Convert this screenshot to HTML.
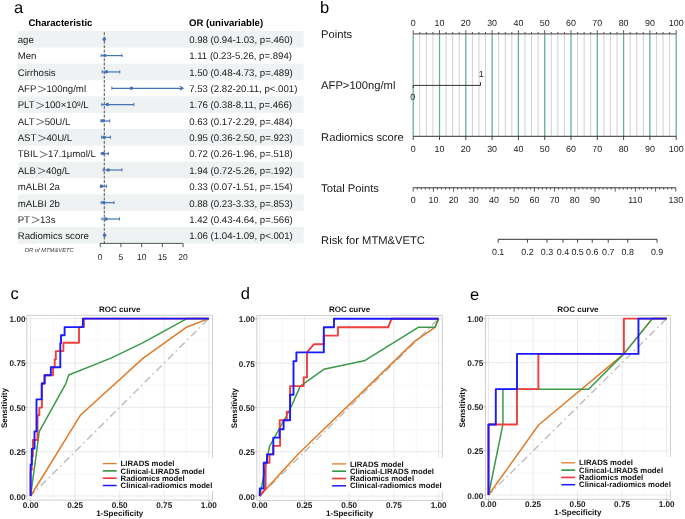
<!DOCTYPE html>
<html><head><meta charset="utf-8"><style>
html,body{margin:0;padding:0;background:#fff;width:685px;height:519px;overflow:hidden}
svg{display:block;will-change:transform}
text{font-family:"Liberation Sans", sans-serif;text-rendering:geometricPrecision}
</style></head><body>
<svg width="685" height="519" viewBox="0 0 685 519" font-family='"Liberation Sans", sans-serif'>
<rect width="685" height="519" fill="#fff"/>
<text x="14.1" y="13" font-size="16.5">a</text>
<text x="28.4" y="25.8" font-size="9.6" font-weight="bold">Characteristic</text>
<text x="189.0" y="26.1" font-size="9.6" font-weight="bold">OR (univariable)</text>
<rect x="17.9" y="31" width="285.8" height="16.5" fill="#eef2f2"/>
<rect x="17.9" y="63.68" width="285.8" height="16.5" fill="#eef2f2"/>
<rect x="17.9" y="96.36" width="285.8" height="16.5" fill="#eef2f2"/>
<rect x="17.9" y="129.04" width="285.8" height="16.5" fill="#eef2f2"/>
<rect x="17.9" y="161.72" width="285.8" height="16.5" fill="#eef2f2"/>
<rect x="17.9" y="194.4" width="285.8" height="16.5" fill="#eef2f2"/>
<rect x="17.9" y="227.08" width="285.8" height="16.5" fill="#eef2f2"/>
<text x="17.7" y="43.1" font-size="9.65" fill="#1a1a1a">age</text>
<text x="189.2" y="43.1" font-size="9.65" fill="#1a1a1a">0.98 (0.94-1.03, p=.460)</text>
<text x="17.7" y="59.44" font-size="9.65" fill="#1a1a1a">Men</text>
<text x="189.2" y="59.44" font-size="9.65" fill="#1a1a1a">1.11 (0.23-5.26, p=.894)</text>
<text x="17.7" y="75.78" font-size="9.65" fill="#1a1a1a">Cirrhosis</text>
<text x="189.2" y="75.78" font-size="9.65" fill="#1a1a1a">1.50 (0.48-4.73, p=.489)</text>
<text x="17.7" y="92.12" font-size="9.65" fill="#1a1a1a">AFP</text>
<path d="M38.23,86.02 L45.63,89.12 L38.23,92.22" fill="none" stroke="#383838" stroke-width="0.72"/>
<text x="46.43" y="92.12" font-size="9.65" fill="#1a1a1a">100ng/ml</text>
<text x="189.2" y="92.12" font-size="9.65" fill="#1a1a1a">7.53 (2.82-20.11, p&lt;.001)</text>
<text x="17.7" y="108.46" font-size="9.65" fill="#1a1a1a">PLT</text>
<path d="M36.44,102.36 L43.84,105.46 L36.44,108.56" fill="none" stroke="#383838" stroke-width="0.72"/>
<text x="44.64" y="108.46" font-size="9.65" fill="#1a1a1a">100×10<tspan font-size='6.6' dy='-2.6'>9</tspan><tspan dy='2.6'>/L</tspan></text>
<text x="189.2" y="108.46" font-size="9.65" fill="#1a1a1a">1.76 (0.38-8.11, p=.466)</text>
<text x="17.7" y="124.8" font-size="9.65" fill="#1a1a1a">ALT</text>
<path d="M36.44,118.7 L43.84,121.8 L36.44,124.9" fill="none" stroke="#383838" stroke-width="0.72"/>
<text x="44.64" y="124.8" font-size="9.65" fill="#1a1a1a">50U/L</text>
<text x="189.2" y="124.8" font-size="9.65" fill="#1a1a1a">0.63 (0.17-2.29, p=.484)</text>
<text x="17.7" y="141.14" font-size="9.65" fill="#1a1a1a">AST</text>
<path d="M38.23,135.04 L45.63,138.14 L38.23,141.24" fill="none" stroke="#383838" stroke-width="0.72"/>
<text x="46.43" y="141.14" font-size="9.65" fill="#1a1a1a">40U/L</text>
<text x="189.2" y="141.14" font-size="9.65" fill="#1a1a1a">0.95 (0.36-2.50, p=.923)</text>
<text x="17.7" y="157.48" font-size="9.65" fill="#1a1a1a">TBIL</text>
<path d="M39.83,151.38 L47.23,154.48 L39.83,157.58" fill="none" stroke="#383838" stroke-width="0.72"/>
<text x="48.03" y="157.48" font-size="9.65" fill="#1a1a1a">17.1μmol/L</text>
<text x="189.2" y="157.48" font-size="9.65" fill="#1a1a1a">0.72 (0.26-1.96, p=.518)</text>
<text x="17.7" y="173.82" font-size="9.65" fill="#1a1a1a">ALB</text>
<path d="M37.7,167.72 L45.1,170.82 L37.7,173.92" fill="none" stroke="#383838" stroke-width="0.72"/>
<text x="45.9" y="173.82" font-size="9.65" fill="#1a1a1a">40g/L</text>
<text x="189.2" y="173.82" font-size="9.65" fill="#1a1a1a">1.94 (0.72-5.26, p=.192)</text>
<text x="17.7" y="190.16" font-size="9.65" fill="#1a1a1a">mALBI 2a</text>
<text x="189.2" y="190.16" font-size="9.65" fill="#1a1a1a">0.33 (0.07-1.51, p=.154)</text>
<text x="17.7" y="206.5" font-size="9.65" fill="#1a1a1a">mALBI 2b</text>
<text x="189.2" y="206.5" font-size="9.65" fill="#1a1a1a">0.88 (0.23-3.33, p=.853)</text>
<text x="17.7" y="222.84" font-size="9.65" fill="#1a1a1a">PT</text>
<path d="M31.81,216.74 L39.21,219.84 L31.81,222.94" fill="none" stroke="#383838" stroke-width="0.72"/>
<text x="40.01" y="222.84" font-size="9.65" fill="#1a1a1a">13s</text>
<text x="189.2" y="222.84" font-size="9.65" fill="#1a1a1a">1.42 (0.43-4.64, p=.566)</text>
<text x="17.7" y="239.18" font-size="9.65" fill="#1a1a1a">Radiomics score</text>
<text x="189.2" y="239.18" font-size="9.65" fill="#1a1a1a">1.06 (1.04-1.09, p&lt;.001)</text>
<line x1="104.3" y1="31" x2="104.3" y2="243.4" stroke="#5a5a5a" stroke-width="1.05" stroke-dasharray="2.9,1.45" stroke-dashoffset="3.2"/>
<line x1="104.1" y1="39.27" x2="104.47" y2="39.27" stroke="#4672b6" stroke-width="1.2"/>
<line x1="104.1" y1="37.57" x2="104.1" y2="40.77" stroke="#4672b6" stroke-width="1"/>
<line x1="104.47" y1="37.57" x2="104.47" y2="40.77" stroke="#4672b6" stroke-width="1"/>
<circle cx="104.26" cy="39.17" r="1.75" fill="#4672b6"/>
<line x1="101.15" y1="55.61" x2="122" y2="55.61" stroke="#4672b6" stroke-width="1.2"/>
<line x1="101.15" y1="53.91" x2="101.15" y2="57.11" stroke="#4672b6" stroke-width="1"/>
<line x1="122" y1="53.91" x2="122" y2="57.11" stroke="#4672b6" stroke-width="1"/>
<circle cx="104.8" cy="55.51" r="1.75" fill="#4672b6"/>
<line x1="102.19" y1="71.95" x2="119.81" y2="71.95" stroke="#4672b6" stroke-width="1.2"/>
<line x1="102.19" y1="70.25" x2="102.19" y2="73.45" stroke="#4672b6" stroke-width="1"/>
<line x1="119.81" y1="70.25" x2="119.81" y2="73.45" stroke="#4672b6" stroke-width="1"/>
<circle cx="106.42" cy="71.85" r="1.75" fill="#4672b6"/>
<line x1="111.89" y1="88.29" x2="183.1" y2="88.29" stroke="#4672b6" stroke-width="1.2"/>
<line x1="111.89" y1="86.59" x2="111.89" y2="89.79" stroke="#4672b6" stroke-width="1"/>
<path d="M179.9,86.19 L183.1,88.19 L179.9,90.19" fill="none" stroke="#4672b6" stroke-width="1.1"/>
<circle cx="131.41" cy="88.19" r="1.75" fill="#4672b6"/>
<line x1="101.78" y1="104.63" x2="133.82" y2="104.63" stroke="#4672b6" stroke-width="1.2"/>
<line x1="101.78" y1="102.93" x2="101.78" y2="106.13" stroke="#4672b6" stroke-width="1"/>
<line x1="133.82" y1="102.93" x2="133.82" y2="106.13" stroke="#4672b6" stroke-width="1"/>
<circle cx="107.5" cy="104.53" r="1.75" fill="#4672b6"/>
<line x1="100.9" y1="120.97" x2="109.69" y2="120.97" stroke="#4672b6" stroke-width="1.2"/>
<line x1="100.9" y1="119.27" x2="100.9" y2="122.47" stroke="#4672b6" stroke-width="1"/>
<line x1="109.69" y1="119.27" x2="109.69" y2="122.47" stroke="#4672b6" stroke-width="1"/>
<circle cx="102.81" cy="120.87" r="1.75" fill="#4672b6"/>
<line x1="101.69" y1="137.31" x2="110.56" y2="137.31" stroke="#4672b6" stroke-width="1.2"/>
<line x1="101.69" y1="135.61" x2="101.69" y2="138.81" stroke="#4672b6" stroke-width="1"/>
<line x1="110.56" y1="135.61" x2="110.56" y2="138.81" stroke="#4672b6" stroke-width="1"/>
<circle cx="104.14" cy="137.21" r="1.75" fill="#4672b6"/>
<line x1="101.28" y1="153.65" x2="108.32" y2="153.65" stroke="#4672b6" stroke-width="1.2"/>
<line x1="101.28" y1="151.95" x2="101.28" y2="155.15" stroke="#4672b6" stroke-width="1"/>
<line x1="108.32" y1="151.95" x2="108.32" y2="155.15" stroke="#4672b6" stroke-width="1"/>
<circle cx="103.18" cy="153.55" r="1.75" fill="#4672b6"/>
<line x1="103.18" y1="169.99" x2="122" y2="169.99" stroke="#4672b6" stroke-width="1.2"/>
<line x1="103.18" y1="168.29" x2="103.18" y2="171.49" stroke="#4672b6" stroke-width="1"/>
<line x1="122" y1="168.29" x2="122" y2="171.49" stroke="#4672b6" stroke-width="1"/>
<circle cx="108.24" cy="169.89" r="1.75" fill="#4672b6"/>
<line x1="100.49" y1="186.33" x2="106.46" y2="186.33" stroke="#4672b6" stroke-width="1.2"/>
<line x1="100.49" y1="184.63" x2="100.49" y2="187.83" stroke="#4672b6" stroke-width="1"/>
<line x1="106.46" y1="184.63" x2="106.46" y2="187.83" stroke="#4672b6" stroke-width="1"/>
<circle cx="101.57" cy="186.23" r="1.75" fill="#4672b6"/>
<line x1="101.15" y1="202.67" x2="114" y2="202.67" stroke="#4672b6" stroke-width="1.2"/>
<line x1="101.15" y1="200.97" x2="101.15" y2="204.17" stroke="#4672b6" stroke-width="1"/>
<line x1="114" y1="200.97" x2="114" y2="204.17" stroke="#4672b6" stroke-width="1"/>
<circle cx="103.85" cy="202.57" r="1.75" fill="#4672b6"/>
<line x1="101.98" y1="219.01" x2="119.43" y2="219.01" stroke="#4672b6" stroke-width="1.2"/>
<line x1="101.98" y1="217.31" x2="101.98" y2="220.51" stroke="#4672b6" stroke-width="1"/>
<line x1="119.43" y1="217.31" x2="119.43" y2="220.51" stroke="#4672b6" stroke-width="1"/>
<circle cx="106.09" cy="218.91" r="1.75" fill="#4672b6"/>
<line x1="104.51" y1="235.35" x2="104.72" y2="235.35" stroke="#4672b6" stroke-width="1.2"/>
<line x1="104.51" y1="233.65" x2="104.51" y2="236.85" stroke="#4672b6" stroke-width="1"/>
<line x1="104.72" y1="233.65" x2="104.72" y2="236.85" stroke="#4672b6" stroke-width="1"/>
<circle cx="104.59" cy="235.25" r="1.75" fill="#4672b6"/>
<line x1="100.2" y1="243.4" x2="183.1" y2="243.4" stroke="#444" stroke-width="0.9"/>
<line x1="100.2" y1="243.4" x2="100.2" y2="247.2" stroke="#444" stroke-width="0.9"/>
<text x="100.2" y="259.5" font-size="8.5" text-anchor="middle" fill="#222">0</text>
<line x1="120.92" y1="243.4" x2="120.92" y2="247.2" stroke="#444" stroke-width="0.9"/>
<text x="120.92" y="259.5" font-size="8.5" text-anchor="middle" fill="#222">5</text>
<line x1="141.65" y1="243.4" x2="141.65" y2="247.2" stroke="#444" stroke-width="0.9"/>
<text x="141.65" y="259.5" font-size="8.5" text-anchor="middle" fill="#222">10</text>
<line x1="162.38" y1="243.4" x2="162.38" y2="247.2" stroke="#444" stroke-width="0.9"/>
<text x="162.38" y="259.5" font-size="8.5" text-anchor="middle" fill="#222">15</text>
<line x1="183.1" y1="243.4" x2="183.1" y2="247.2" stroke="#444" stroke-width="0.9"/>
<text x="183.1" y="259.5" font-size="8.5" text-anchor="middle" fill="#222">20</text>
<text x="24.5" y="251.7" font-size="5.8" font-style="italic" fill="#333">OR of MTM&amp;VETC</text>
<text x="320.1" y="13" font-size="16.5">b</text>
<line x1="419.77" y1="34" x2="419.77" y2="136.3" stroke="#d0d0d0" stroke-width="1"/>
<line x1="426.35" y1="34" x2="426.35" y2="136.3" stroke="#d0d0d0" stroke-width="1"/>
<line x1="432.93" y1="34" x2="432.93" y2="136.3" stroke="#d0d0d0" stroke-width="1"/>
<line x1="446.07" y1="34" x2="446.07" y2="136.3" stroke="#d0d0d0" stroke-width="1"/>
<line x1="452.65" y1="34" x2="452.65" y2="136.3" stroke="#d0d0d0" stroke-width="1"/>
<line x1="459.22" y1="34" x2="459.22" y2="136.3" stroke="#d0d0d0" stroke-width="1"/>
<line x1="472.38" y1="34" x2="472.38" y2="136.3" stroke="#d0d0d0" stroke-width="1"/>
<line x1="478.95" y1="34" x2="478.95" y2="136.3" stroke="#d0d0d0" stroke-width="1"/>
<line x1="485.52" y1="34" x2="485.52" y2="136.3" stroke="#d0d0d0" stroke-width="1"/>
<line x1="498.67" y1="34" x2="498.67" y2="136.3" stroke="#d0d0d0" stroke-width="1"/>
<line x1="505.25" y1="34" x2="505.25" y2="136.3" stroke="#d0d0d0" stroke-width="1"/>
<line x1="511.82" y1="34" x2="511.82" y2="136.3" stroke="#d0d0d0" stroke-width="1"/>
<line x1="524.98" y1="34" x2="524.98" y2="136.3" stroke="#d0d0d0" stroke-width="1"/>
<line x1="531.55" y1="34" x2="531.55" y2="136.3" stroke="#d0d0d0" stroke-width="1"/>
<line x1="538.12" y1="34" x2="538.12" y2="136.3" stroke="#d0d0d0" stroke-width="1"/>
<line x1="551.27" y1="34" x2="551.27" y2="136.3" stroke="#d0d0d0" stroke-width="1"/>
<line x1="557.85" y1="34" x2="557.85" y2="136.3" stroke="#d0d0d0" stroke-width="1"/>
<line x1="564.42" y1="34" x2="564.42" y2="136.3" stroke="#d0d0d0" stroke-width="1"/>
<line x1="577.58" y1="34" x2="577.58" y2="136.3" stroke="#d0d0d0" stroke-width="1"/>
<line x1="584.15" y1="34" x2="584.15" y2="136.3" stroke="#d0d0d0" stroke-width="1"/>
<line x1="590.73" y1="34" x2="590.73" y2="136.3" stroke="#d0d0d0" stroke-width="1"/>
<line x1="603.88" y1="34" x2="603.88" y2="136.3" stroke="#d0d0d0" stroke-width="1"/>
<line x1="610.45" y1="34" x2="610.45" y2="136.3" stroke="#d0d0d0" stroke-width="1"/>
<line x1="617.02" y1="34" x2="617.02" y2="136.3" stroke="#d0d0d0" stroke-width="1"/>
<line x1="630.17" y1="34" x2="630.17" y2="136.3" stroke="#d0d0d0" stroke-width="1"/>
<line x1="636.75" y1="34" x2="636.75" y2="136.3" stroke="#d0d0d0" stroke-width="1"/>
<line x1="643.33" y1="34" x2="643.33" y2="136.3" stroke="#d0d0d0" stroke-width="1"/>
<line x1="656.47" y1="34" x2="656.47" y2="136.3" stroke="#d0d0d0" stroke-width="1"/>
<line x1="663.05" y1="34" x2="663.05" y2="136.3" stroke="#d0d0d0" stroke-width="1"/>
<line x1="669.62" y1="34" x2="669.62" y2="136.3" stroke="#d0d0d0" stroke-width="1"/>
<line x1="413.2" y1="34" x2="413.2" y2="136.3" stroke="#69ada2" stroke-width="1.3"/>
<line x1="439.5" y1="34" x2="439.5" y2="136.3" stroke="#69ada2" stroke-width="1.3"/>
<line x1="465.8" y1="34" x2="465.8" y2="136.3" stroke="#69ada2" stroke-width="1.3"/>
<line x1="492.1" y1="34" x2="492.1" y2="136.3" stroke="#69ada2" stroke-width="1.3"/>
<line x1="518.4" y1="34" x2="518.4" y2="136.3" stroke="#69ada2" stroke-width="1.3"/>
<line x1="544.7" y1="34" x2="544.7" y2="136.3" stroke="#69ada2" stroke-width="1.3"/>
<line x1="571" y1="34" x2="571" y2="136.3" stroke="#69ada2" stroke-width="1.3"/>
<line x1="597.3" y1="34" x2="597.3" y2="136.3" stroke="#69ada2" stroke-width="1.3"/>
<line x1="623.6" y1="34" x2="623.6" y2="136.3" stroke="#69ada2" stroke-width="1.3"/>
<line x1="649.9" y1="34" x2="649.9" y2="136.3" stroke="#69ada2" stroke-width="1.3"/>
<line x1="676.2" y1="34" x2="676.2" y2="136.3" stroke="#69ada2" stroke-width="1.3"/>
<line x1="413.2" y1="33.9" x2="676.2" y2="33.9" stroke="#6a6a6a" stroke-width="1.3"/>
<line x1="413.2" y1="30.2" x2="413.2" y2="33.9" stroke="#444" stroke-width="0.9"/>
<line x1="419.77" y1="32.0" x2="419.77" y2="33.9" stroke="#444" stroke-width="0.9"/>
<line x1="426.35" y1="32.0" x2="426.35" y2="33.9" stroke="#444" stroke-width="0.9"/>
<line x1="432.93" y1="32.0" x2="432.93" y2="33.9" stroke="#444" stroke-width="0.9"/>
<line x1="439.5" y1="30.2" x2="439.5" y2="33.9" stroke="#444" stroke-width="0.9"/>
<line x1="446.07" y1="32.0" x2="446.07" y2="33.9" stroke="#444" stroke-width="0.9"/>
<line x1="452.65" y1="32.0" x2="452.65" y2="33.9" stroke="#444" stroke-width="0.9"/>
<line x1="459.22" y1="32.0" x2="459.22" y2="33.9" stroke="#444" stroke-width="0.9"/>
<line x1="465.8" y1="30.2" x2="465.8" y2="33.9" stroke="#444" stroke-width="0.9"/>
<line x1="472.38" y1="32.0" x2="472.38" y2="33.9" stroke="#444" stroke-width="0.9"/>
<line x1="478.95" y1="32.0" x2="478.95" y2="33.9" stroke="#444" stroke-width="0.9"/>
<line x1="485.52" y1="32.0" x2="485.52" y2="33.9" stroke="#444" stroke-width="0.9"/>
<line x1="492.1" y1="30.2" x2="492.1" y2="33.9" stroke="#444" stroke-width="0.9"/>
<line x1="498.67" y1="32.0" x2="498.67" y2="33.9" stroke="#444" stroke-width="0.9"/>
<line x1="505.25" y1="32.0" x2="505.25" y2="33.9" stroke="#444" stroke-width="0.9"/>
<line x1="511.82" y1="32.0" x2="511.82" y2="33.9" stroke="#444" stroke-width="0.9"/>
<line x1="518.4" y1="30.2" x2="518.4" y2="33.9" stroke="#444" stroke-width="0.9"/>
<line x1="524.98" y1="32.0" x2="524.98" y2="33.9" stroke="#444" stroke-width="0.9"/>
<line x1="531.55" y1="32.0" x2="531.55" y2="33.9" stroke="#444" stroke-width="0.9"/>
<line x1="538.12" y1="32.0" x2="538.12" y2="33.9" stroke="#444" stroke-width="0.9"/>
<line x1="544.7" y1="30.2" x2="544.7" y2="33.9" stroke="#444" stroke-width="0.9"/>
<line x1="551.27" y1="32.0" x2="551.27" y2="33.9" stroke="#444" stroke-width="0.9"/>
<line x1="557.85" y1="32.0" x2="557.85" y2="33.9" stroke="#444" stroke-width="0.9"/>
<line x1="564.42" y1="32.0" x2="564.42" y2="33.9" stroke="#444" stroke-width="0.9"/>
<line x1="571" y1="30.2" x2="571" y2="33.9" stroke="#444" stroke-width="0.9"/>
<line x1="577.58" y1="32.0" x2="577.58" y2="33.9" stroke="#444" stroke-width="0.9"/>
<line x1="584.15" y1="32.0" x2="584.15" y2="33.9" stroke="#444" stroke-width="0.9"/>
<line x1="590.73" y1="32.0" x2="590.73" y2="33.9" stroke="#444" stroke-width="0.9"/>
<line x1="597.3" y1="30.2" x2="597.3" y2="33.9" stroke="#444" stroke-width="0.9"/>
<line x1="603.88" y1="32.0" x2="603.88" y2="33.9" stroke="#444" stroke-width="0.9"/>
<line x1="610.45" y1="32.0" x2="610.45" y2="33.9" stroke="#444" stroke-width="0.9"/>
<line x1="617.02" y1="32.0" x2="617.02" y2="33.9" stroke="#444" stroke-width="0.9"/>
<line x1="623.6" y1="30.2" x2="623.6" y2="33.9" stroke="#444" stroke-width="0.9"/>
<line x1="630.17" y1="32.0" x2="630.17" y2="33.9" stroke="#444" stroke-width="0.9"/>
<line x1="636.75" y1="32.0" x2="636.75" y2="33.9" stroke="#444" stroke-width="0.9"/>
<line x1="643.33" y1="32.0" x2="643.33" y2="33.9" stroke="#444" stroke-width="0.9"/>
<line x1="649.9" y1="30.2" x2="649.9" y2="33.9" stroke="#444" stroke-width="0.9"/>
<line x1="656.47" y1="32.0" x2="656.47" y2="33.9" stroke="#444" stroke-width="0.9"/>
<line x1="663.05" y1="32.0" x2="663.05" y2="33.9" stroke="#444" stroke-width="0.9"/>
<line x1="669.62" y1="32.0" x2="669.62" y2="33.9" stroke="#444" stroke-width="0.9"/>
<line x1="676.2" y1="30.2" x2="676.2" y2="33.9" stroke="#444" stroke-width="0.9"/>
<text x="413.2" y="25.8" font-size="8.9" text-anchor="middle" fill="#222">0</text>
<text x="439.5" y="25.8" font-size="8.9" text-anchor="middle" fill="#222">10</text>
<text x="465.8" y="25.8" font-size="8.9" text-anchor="middle" fill="#222">20</text>
<text x="492.1" y="25.8" font-size="8.9" text-anchor="middle" fill="#222">30</text>
<text x="518.4" y="25.8" font-size="8.9" text-anchor="middle" fill="#222">40</text>
<text x="544.7" y="25.8" font-size="8.9" text-anchor="middle" fill="#222">50</text>
<text x="571" y="25.8" font-size="8.9" text-anchor="middle" fill="#222">60</text>
<text x="597.3" y="25.8" font-size="8.9" text-anchor="middle" fill="#222">70</text>
<text x="623.6" y="25.8" font-size="8.9" text-anchor="middle" fill="#222">80</text>
<text x="649.9" y="25.8" font-size="8.9" text-anchor="middle" fill="#222">90</text>
<text x="676.2" y="25.8" font-size="8.9" text-anchor="middle" fill="#222">100</text>
<text x="321.1" y="38.1" font-size="11.2" fill="#1a1a1a">Points</text>
<text x="321.1" y="89.1" font-size="11.2" fill="#1a1a1a">AFP&gt;100ng/ml</text>
<text x="321.1" y="140.6" font-size="11.2" fill="#1a1a1a">Radiomics score</text>
<text x="321.1" y="192.3" font-size="11.2" fill="#1a1a1a">Total Points</text>
<text x="321.1" y="243.5" font-size="11.2" fill="#1a1a1a">Risk for MTM&amp;VETC</text>
<path d="M413.2,88.2 V85.4 H480.5 V82.2" fill="none" stroke="#333" stroke-width="1"/>
<text x="481.2" y="77.2" font-size="8.9" text-anchor="middle" fill="#222">1</text>
<text x="412.8" y="100.3" font-size="8.9" text-anchor="middle" fill="#222">0</text>
<line x1="413.2" y1="136.3" x2="676.2" y2="136.3" stroke="#333" stroke-width="1"/>
<line x1="413.2" y1="136.3" x2="413.2" y2="140" stroke="#333" stroke-width="0.9"/>
<text x="413.2" y="151.7" font-size="8.9" text-anchor="middle" fill="#222">0</text>
<line x1="439.5" y1="136.3" x2="439.5" y2="140" stroke="#333" stroke-width="0.9"/>
<text x="439.5" y="151.7" font-size="8.9" text-anchor="middle" fill="#222">10</text>
<line x1="465.8" y1="136.3" x2="465.8" y2="140" stroke="#333" stroke-width="0.9"/>
<text x="465.8" y="151.7" font-size="8.9" text-anchor="middle" fill="#222">20</text>
<line x1="492.1" y1="136.3" x2="492.1" y2="140" stroke="#333" stroke-width="0.9"/>
<text x="492.1" y="151.7" font-size="8.9" text-anchor="middle" fill="#222">30</text>
<line x1="518.4" y1="136.3" x2="518.4" y2="140" stroke="#333" stroke-width="0.9"/>
<text x="518.4" y="151.7" font-size="8.9" text-anchor="middle" fill="#222">40</text>
<line x1="544.7" y1="136.3" x2="544.7" y2="140" stroke="#333" stroke-width="0.9"/>
<text x="544.7" y="151.7" font-size="8.9" text-anchor="middle" fill="#222">50</text>
<line x1="571" y1="136.3" x2="571" y2="140" stroke="#333" stroke-width="0.9"/>
<text x="571" y="151.7" font-size="8.9" text-anchor="middle" fill="#222">60</text>
<line x1="597.3" y1="136.3" x2="597.3" y2="140" stroke="#333" stroke-width="0.9"/>
<text x="597.3" y="151.7" font-size="8.9" text-anchor="middle" fill="#222">70</text>
<line x1="623.6" y1="136.3" x2="623.6" y2="140" stroke="#333" stroke-width="0.9"/>
<text x="623.6" y="151.7" font-size="8.9" text-anchor="middle" fill="#222">80</text>
<line x1="649.9" y1="136.3" x2="649.9" y2="140" stroke="#333" stroke-width="0.9"/>
<text x="649.9" y="151.7" font-size="8.9" text-anchor="middle" fill="#222">90</text>
<line x1="676.2" y1="136.3" x2="676.2" y2="140" stroke="#333" stroke-width="0.9"/>
<text x="676.2" y="151.7" font-size="8.9" text-anchor="middle" fill="#222">100</text>
<line x1="413.2" y1="187.8" x2="675.8" y2="187.8" stroke="#333" stroke-width="1"/>
<line x1="413.2" y1="187.8" x2="413.2" y2="191.6" stroke="#333" stroke-width="0.8"/>
<line x1="417.24" y1="187.8" x2="417.24" y2="189.7" stroke="#333" stroke-width="0.8"/>
<line x1="421.28" y1="187.8" x2="421.28" y2="189.7" stroke="#333" stroke-width="0.8"/>
<line x1="425.32" y1="187.8" x2="425.32" y2="189.7" stroke="#333" stroke-width="0.8"/>
<line x1="429.36" y1="187.8" x2="429.36" y2="189.7" stroke="#333" stroke-width="0.8"/>
<line x1="433.4" y1="187.8" x2="433.4" y2="191.6" stroke="#333" stroke-width="0.8"/>
<line x1="437.44" y1="187.8" x2="437.44" y2="189.7" stroke="#333" stroke-width="0.8"/>
<line x1="441.48" y1="187.8" x2="441.48" y2="189.7" stroke="#333" stroke-width="0.8"/>
<line x1="445.52" y1="187.8" x2="445.52" y2="189.7" stroke="#333" stroke-width="0.8"/>
<line x1="449.56" y1="187.8" x2="449.56" y2="189.7" stroke="#333" stroke-width="0.8"/>
<line x1="453.6" y1="187.8" x2="453.6" y2="191.6" stroke="#333" stroke-width="0.8"/>
<line x1="457.64" y1="187.8" x2="457.64" y2="189.7" stroke="#333" stroke-width="0.8"/>
<line x1="461.68" y1="187.8" x2="461.68" y2="189.7" stroke="#333" stroke-width="0.8"/>
<line x1="465.72" y1="187.8" x2="465.72" y2="189.7" stroke="#333" stroke-width="0.8"/>
<line x1="469.76" y1="187.8" x2="469.76" y2="189.7" stroke="#333" stroke-width="0.8"/>
<line x1="473.8" y1="187.8" x2="473.8" y2="191.6" stroke="#333" stroke-width="0.8"/>
<line x1="477.84" y1="187.8" x2="477.84" y2="189.7" stroke="#333" stroke-width="0.8"/>
<line x1="481.88" y1="187.8" x2="481.88" y2="189.7" stroke="#333" stroke-width="0.8"/>
<line x1="485.92" y1="187.8" x2="485.92" y2="189.7" stroke="#333" stroke-width="0.8"/>
<line x1="489.96" y1="187.8" x2="489.96" y2="189.7" stroke="#333" stroke-width="0.8"/>
<line x1="494" y1="187.8" x2="494" y2="191.6" stroke="#333" stroke-width="0.8"/>
<line x1="498.04" y1="187.8" x2="498.04" y2="189.7" stroke="#333" stroke-width="0.8"/>
<line x1="502.08" y1="187.8" x2="502.08" y2="189.7" stroke="#333" stroke-width="0.8"/>
<line x1="506.12" y1="187.8" x2="506.12" y2="189.7" stroke="#333" stroke-width="0.8"/>
<line x1="510.16" y1="187.8" x2="510.16" y2="189.7" stroke="#333" stroke-width="0.8"/>
<line x1="514.2" y1="187.8" x2="514.2" y2="191.6" stroke="#333" stroke-width="0.8"/>
<line x1="518.24" y1="187.8" x2="518.24" y2="189.7" stroke="#333" stroke-width="0.8"/>
<line x1="522.28" y1="187.8" x2="522.28" y2="189.7" stroke="#333" stroke-width="0.8"/>
<line x1="526.32" y1="187.8" x2="526.32" y2="189.7" stroke="#333" stroke-width="0.8"/>
<line x1="530.36" y1="187.8" x2="530.36" y2="189.7" stroke="#333" stroke-width="0.8"/>
<line x1="534.4" y1="187.8" x2="534.4" y2="191.6" stroke="#333" stroke-width="0.8"/>
<line x1="538.44" y1="187.8" x2="538.44" y2="189.7" stroke="#333" stroke-width="0.8"/>
<line x1="542.48" y1="187.8" x2="542.48" y2="189.7" stroke="#333" stroke-width="0.8"/>
<line x1="546.52" y1="187.8" x2="546.52" y2="189.7" stroke="#333" stroke-width="0.8"/>
<line x1="550.56" y1="187.8" x2="550.56" y2="189.7" stroke="#333" stroke-width="0.8"/>
<line x1="554.6" y1="187.8" x2="554.6" y2="191.6" stroke="#333" stroke-width="0.8"/>
<line x1="558.64" y1="187.8" x2="558.64" y2="189.7" stroke="#333" stroke-width="0.8"/>
<line x1="562.68" y1="187.8" x2="562.68" y2="189.7" stroke="#333" stroke-width="0.8"/>
<line x1="566.72" y1="187.8" x2="566.72" y2="189.7" stroke="#333" stroke-width="0.8"/>
<line x1="570.76" y1="187.8" x2="570.76" y2="189.7" stroke="#333" stroke-width="0.8"/>
<line x1="574.8" y1="187.8" x2="574.8" y2="191.6" stroke="#333" stroke-width="0.8"/>
<line x1="578.84" y1="187.8" x2="578.84" y2="189.7" stroke="#333" stroke-width="0.8"/>
<line x1="582.88" y1="187.8" x2="582.88" y2="189.7" stroke="#333" stroke-width="0.8"/>
<line x1="586.92" y1="187.8" x2="586.92" y2="189.7" stroke="#333" stroke-width="0.8"/>
<line x1="590.96" y1="187.8" x2="590.96" y2="189.7" stroke="#333" stroke-width="0.8"/>
<line x1="595" y1="187.8" x2="595" y2="191.6" stroke="#333" stroke-width="0.8"/>
<line x1="599.04" y1="187.8" x2="599.04" y2="189.7" stroke="#333" stroke-width="0.8"/>
<line x1="603.08" y1="187.8" x2="603.08" y2="189.7" stroke="#333" stroke-width="0.8"/>
<line x1="607.12" y1="187.8" x2="607.12" y2="189.7" stroke="#333" stroke-width="0.8"/>
<line x1="611.16" y1="187.8" x2="611.16" y2="189.7" stroke="#333" stroke-width="0.8"/>
<line x1="615.2" y1="187.8" x2="615.2" y2="191.6" stroke="#333" stroke-width="0.8"/>
<line x1="619.24" y1="187.8" x2="619.24" y2="189.7" stroke="#333" stroke-width="0.8"/>
<line x1="623.28" y1="187.8" x2="623.28" y2="189.7" stroke="#333" stroke-width="0.8"/>
<line x1="627.32" y1="187.8" x2="627.32" y2="189.7" stroke="#333" stroke-width="0.8"/>
<line x1="631.36" y1="187.8" x2="631.36" y2="189.7" stroke="#333" stroke-width="0.8"/>
<line x1="635.4" y1="187.8" x2="635.4" y2="191.6" stroke="#333" stroke-width="0.8"/>
<line x1="639.44" y1="187.8" x2="639.44" y2="189.7" stroke="#333" stroke-width="0.8"/>
<line x1="643.48" y1="187.8" x2="643.48" y2="189.7" stroke="#333" stroke-width="0.8"/>
<line x1="647.52" y1="187.8" x2="647.52" y2="189.7" stroke="#333" stroke-width="0.8"/>
<line x1="651.56" y1="187.8" x2="651.56" y2="189.7" stroke="#333" stroke-width="0.8"/>
<line x1="655.6" y1="187.8" x2="655.6" y2="191.6" stroke="#333" stroke-width="0.8"/>
<line x1="659.64" y1="187.8" x2="659.64" y2="189.7" stroke="#333" stroke-width="0.8"/>
<line x1="663.68" y1="187.8" x2="663.68" y2="189.7" stroke="#333" stroke-width="0.8"/>
<line x1="667.72" y1="187.8" x2="667.72" y2="189.7" stroke="#333" stroke-width="0.8"/>
<line x1="671.76" y1="187.8" x2="671.76" y2="189.7" stroke="#333" stroke-width="0.8"/>
<line x1="675.8" y1="187.8" x2="675.8" y2="191.6" stroke="#333" stroke-width="0.8"/>
<text x="413.2" y="202.8" font-size="8.9" text-anchor="middle" fill="#222">0</text>
<text x="433.4" y="202.8" font-size="8.9" text-anchor="middle" fill="#222">10</text>
<text x="453.6" y="202.8" font-size="8.9" text-anchor="middle" fill="#222">20</text>
<text x="473.8" y="202.8" font-size="8.9" text-anchor="middle" fill="#222">30</text>
<text x="494" y="202.8" font-size="8.9" text-anchor="middle" fill="#222">40</text>
<text x="514.2" y="202.8" font-size="8.9" text-anchor="middle" fill="#222">50</text>
<text x="534.4" y="202.8" font-size="8.9" text-anchor="middle" fill="#222">60</text>
<text x="554.6" y="202.8" font-size="8.9" text-anchor="middle" fill="#222">70</text>
<text x="574.8" y="202.8" font-size="8.9" text-anchor="middle" fill="#222">80</text>
<text x="595" y="202.8" font-size="8.9" text-anchor="middle" fill="#222">90</text>
<text x="635.4" y="202.8" font-size="8.9" text-anchor="middle" fill="#222">110</text>
<text x="675.8" y="202.8" font-size="8.9" text-anchor="middle" fill="#222">130</text>
<line x1="498.15" y1="239.3" x2="657.05" y2="239.3" stroke="#333" stroke-width="1"/>
<line x1="498.15" y1="239.3" x2="498.15" y2="242.8" stroke="#333" stroke-width="0.9"/>
<text x="498.15" y="254.7" font-size="8.9" text-anchor="middle" fill="#222">0.1</text>
<line x1="527.47" y1="239.3" x2="527.47" y2="242.8" stroke="#333" stroke-width="0.9"/>
<text x="527.47" y="254.7" font-size="8.9" text-anchor="middle" fill="#222">0.2</text>
<line x1="546.96" y1="239.3" x2="546.96" y2="242.8" stroke="#333" stroke-width="0.9"/>
<text x="546.96" y="254.7" font-size="8.9" text-anchor="middle" fill="#222">0.3</text>
<line x1="562.94" y1="239.3" x2="562.94" y2="242.8" stroke="#333" stroke-width="0.9"/>
<text x="562.94" y="254.7" font-size="8.9" text-anchor="middle" fill="#222">0.4</text>
<line x1="577.6" y1="239.3" x2="577.6" y2="242.8" stroke="#333" stroke-width="0.9"/>
<text x="577.6" y="254.7" font-size="8.9" text-anchor="middle" fill="#222">0.5</text>
<line x1="592.26" y1="239.3" x2="592.26" y2="242.8" stroke="#333" stroke-width="0.9"/>
<text x="592.26" y="254.7" font-size="8.9" text-anchor="middle" fill="#222">0.6</text>
<line x1="608.24" y1="239.3" x2="608.24" y2="242.8" stroke="#333" stroke-width="0.9"/>
<text x="608.24" y="254.7" font-size="8.9" text-anchor="middle" fill="#222">0.7</text>
<line x1="627.73" y1="239.3" x2="627.73" y2="242.8" stroke="#333" stroke-width="0.9"/>
<text x="627.73" y="254.7" font-size="8.9" text-anchor="middle" fill="#222">0.8</text>
<line x1="657.05" y1="239.3" x2="657.05" y2="242.8" stroke="#333" stroke-width="0.9"/>
<text x="657.05" y="254.7" font-size="8.9" text-anchor="middle" fill="#222">0.9</text>
<text x="10.6" y="298.9" font-size="16.5">c</text>
<rect x="26.9" y="315.3" width="185.7" height="184.8" fill="#fff" stroke="#c8c8c8" stroke-width="0.9"/>
<line x1="52.88" y1="315.3" x2="52.88" y2="500.1" stroke="#f3f3f3" stroke-width="0.6"/>
<line x1="26.9" y1="473.82" x2="212.6" y2="473.82" stroke="#f3f3f3" stroke-width="0.6"/>
<line x1="97.43" y1="315.3" x2="97.43" y2="500.1" stroke="#f3f3f3" stroke-width="0.6"/>
<line x1="26.9" y1="429.48" x2="212.6" y2="429.48" stroke="#f3f3f3" stroke-width="0.6"/>
<line x1="141.98" y1="315.3" x2="141.98" y2="500.1" stroke="#f3f3f3" stroke-width="0.6"/>
<line x1="26.9" y1="385.12" x2="212.6" y2="385.12" stroke="#f3f3f3" stroke-width="0.6"/>
<line x1="186.53" y1="315.3" x2="186.53" y2="500.1" stroke="#f3f3f3" stroke-width="0.6"/>
<line x1="26.9" y1="340.78" x2="212.6" y2="340.78" stroke="#f3f3f3" stroke-width="0.6"/>
<line x1="30.6" y1="315.3" x2="30.6" y2="500.1" stroke="#e6e6e6" stroke-width="0.9"/>
<line x1="26.9" y1="496" x2="212.6" y2="496" stroke="#e6e6e6" stroke-width="0.9"/>
<line x1="75.15" y1="315.3" x2="75.15" y2="500.1" stroke="#e6e6e6" stroke-width="0.9"/>
<line x1="26.9" y1="451.65" x2="212.6" y2="451.65" stroke="#e6e6e6" stroke-width="0.9"/>
<line x1="119.7" y1="315.3" x2="119.7" y2="500.1" stroke="#e6e6e6" stroke-width="0.9"/>
<line x1="26.9" y1="407.3" x2="212.6" y2="407.3" stroke="#e6e6e6" stroke-width="0.9"/>
<line x1="164.25" y1="315.3" x2="164.25" y2="500.1" stroke="#e6e6e6" stroke-width="0.9"/>
<line x1="26.9" y1="362.95" x2="212.6" y2="362.95" stroke="#e6e6e6" stroke-width="0.9"/>
<line x1="208.8" y1="315.3" x2="208.8" y2="500.1" stroke="#e6e6e6" stroke-width="0.9"/>
<line x1="26.9" y1="318.6" x2="212.6" y2="318.6" stroke="#e6e6e6" stroke-width="0.9"/>
<line x1="24.9" y1="496" x2="26.9" y2="496" stroke="#999" stroke-width="0.7"/>
<line x1="30.6" y1="500.1" x2="30.6" y2="502.1" stroke="#999" stroke-width="0.7"/>
<text x="25.5" y="499.5" font-size="8.2" font-weight="bold" text-anchor="end" fill="#222">0.00</text>
<text x="30.6" y="508.1" font-size="8.2" font-weight="bold" text-anchor="middle" fill="#222">0.00</text>
<line x1="24.9" y1="451.65" x2="26.9" y2="451.65" stroke="#999" stroke-width="0.7"/>
<line x1="75.15" y1="500.1" x2="75.15" y2="502.1" stroke="#999" stroke-width="0.7"/>
<text x="25.5" y="455.15" font-size="8.2" font-weight="bold" text-anchor="end" fill="#222">0.25</text>
<text x="75.15" y="508.1" font-size="8.2" font-weight="bold" text-anchor="middle" fill="#222">0.25</text>
<line x1="24.9" y1="407.3" x2="26.9" y2="407.3" stroke="#999" stroke-width="0.7"/>
<line x1="119.7" y1="500.1" x2="119.7" y2="502.1" stroke="#999" stroke-width="0.7"/>
<text x="25.5" y="410.8" font-size="8.2" font-weight="bold" text-anchor="end" fill="#222">0.50</text>
<text x="119.7" y="508.1" font-size="8.2" font-weight="bold" text-anchor="middle" fill="#222">0.50</text>
<line x1="24.9" y1="362.95" x2="26.9" y2="362.95" stroke="#999" stroke-width="0.7"/>
<line x1="164.25" y1="500.1" x2="164.25" y2="502.1" stroke="#999" stroke-width="0.7"/>
<text x="25.5" y="366.45" font-size="8.2" font-weight="bold" text-anchor="end" fill="#222">0.75</text>
<text x="164.25" y="508.1" font-size="8.2" font-weight="bold" text-anchor="middle" fill="#222">0.75</text>
<line x1="24.9" y1="318.6" x2="26.9" y2="318.6" stroke="#999" stroke-width="0.7"/>
<line x1="208.8" y1="500.1" x2="208.8" y2="502.1" stroke="#999" stroke-width="0.7"/>
<text x="25.5" y="322.1" font-size="8.2" font-weight="bold" text-anchor="end" fill="#222">1.00</text>
<text x="208.8" y="508.1" font-size="8.2" font-weight="bold" text-anchor="middle" fill="#222">1.00</text>
<text x="119.75" y="311.9" font-size="8" font-weight="bold" text-anchor="middle" fill="#111">ROC curve</text>
<text x="119.75" y="516.1" font-size="8" font-weight="bold" text-anchor="middle" fill="#111">1-Specificity</text>
<text transform="translate(6.7,408.1) rotate(-90)" font-size="8" font-weight="bold" text-anchor="middle" fill="#111">Sensitivity</text>
<line x1="30.6" y1="496" x2="208.8" y2="318.6" stroke="#bababa" stroke-width="1.35" stroke-dasharray="7.5,3.6,1.6,3.6" stroke-dashoffset="1.9"/>
<path d="M30.6,496 L80.32,415.28 L143.22,358.16 L186.88,326.94 L208.8,318.6" fill="none" stroke="#e07b28" stroke-width="1.5" stroke-linejoin="round"/>
<path d="M30.6,496 L39.33,431.43 L65.88,383.53 L68.73,375.01 L110.97,358.16 L142.15,343.08 L186.88,318.6 L208.8,318.6" fill="none" stroke="#3a9a48" stroke-width="1.5" stroke-linejoin="round"/>
<path d="M30.6,496 L30.6,470 L31.7,470 L31.7,456.2 L32.9,456.2 L32.9,440 L37.5,440 L37.5,415.3 L39.3,415.3 L39.3,407.6 L41.9,407.6 L41.9,383.5 L44.6,383.5 L44.6,375.3 L53,375.3 L53,367.3 L54.7,367.3 L54.7,359.2 L55.8,359.2 L55.8,351.1 L63.4,351.1 L63.4,342.8 L79,342.8 L79,327.1 L83.9,327.1 L83.9,318.6 L208.8,318.6" fill="none" stroke="#f03e3e" stroke-width="1.9" stroke-linejoin="round"/>
<path d="M30.6,496 L30.6,464.4 L31.9,464.4 L31.9,448.6 L34.5,448.6 L34.5,431.4 L36.5,431.4 L36.5,399.4 L41.7,399.4 L41.7,383.5 L44.6,383.5 L44.6,375.3 L50.8,375.3 L50.8,367.3 L60.3,367.3 L60.3,343.2 L61,343.2 L61,335.2 L64.6,335.2 L64.6,327.1 L82.9,327.1 L82.9,318.6 L208.8,318.6" fill="none" stroke="#1a1aff" stroke-width="1.9" stroke-linejoin="round"/>
<rect x="96.4" y="457.6" width="117.7" height="33.5" fill="#fff"/>
<line x1="102.8" y1="463.6" x2="116.7" y2="463.6" stroke="#e07b28" stroke-width="1.3"/>
<text x="120.6" y="466.2" font-size="7.75" font-weight="bold" fill="#111">LIRADS model</text>
<line x1="102.8" y1="470.9" x2="116.7" y2="470.9" stroke="#3a9a48" stroke-width="1.7"/>
<text x="120.6" y="473.5" font-size="7.75" font-weight="bold" fill="#111">Clinical-LIRADS model</text>
<line x1="102.8" y1="478.2" x2="116.7" y2="478.2" stroke="#f03e3e" stroke-width="1.7"/>
<text x="120.6" y="480.8" font-size="7.75" font-weight="bold" fill="#111">Radiomics model</text>
<line x1="102.8" y1="485.5" x2="116.7" y2="485.5" stroke="#1a1aff" stroke-width="1.5"/>
<text x="120.6" y="488.1" font-size="7.75" font-weight="bold" fill="#111">Clinical-radiomics model</text>
<text x="240.8" y="299.1" font-size="16.5">d</text>
<rect x="256.9" y="315.6" width="185.4" height="184.8" fill="#fff" stroke="#c8c8c8" stroke-width="0.9"/>
<line x1="282.06" y1="315.6" x2="282.06" y2="500.4" stroke="#f3f3f3" stroke-width="0.6"/>
<line x1="256.9" y1="473.93" x2="442.3" y2="473.93" stroke="#f3f3f3" stroke-width="0.6"/>
<line x1="326.79" y1="315.6" x2="326.79" y2="500.4" stroke="#f3f3f3" stroke-width="0.6"/>
<line x1="256.9" y1="429.58" x2="442.3" y2="429.58" stroke="#f3f3f3" stroke-width="0.6"/>
<line x1="371.51" y1="315.6" x2="371.51" y2="500.4" stroke="#f3f3f3" stroke-width="0.6"/>
<line x1="256.9" y1="385.23" x2="442.3" y2="385.23" stroke="#f3f3f3" stroke-width="0.6"/>
<line x1="416.24" y1="315.6" x2="416.24" y2="500.4" stroke="#f3f3f3" stroke-width="0.6"/>
<line x1="256.9" y1="340.88" x2="442.3" y2="340.88" stroke="#f3f3f3" stroke-width="0.6"/>
<line x1="259.7" y1="315.6" x2="259.7" y2="500.4" stroke="#e6e6e6" stroke-width="0.9"/>
<line x1="256.9" y1="496.1" x2="442.3" y2="496.1" stroke="#e6e6e6" stroke-width="0.9"/>
<line x1="304.43" y1="315.6" x2="304.43" y2="500.4" stroke="#e6e6e6" stroke-width="0.9"/>
<line x1="256.9" y1="451.75" x2="442.3" y2="451.75" stroke="#e6e6e6" stroke-width="0.9"/>
<line x1="349.15" y1="315.6" x2="349.15" y2="500.4" stroke="#e6e6e6" stroke-width="0.9"/>
<line x1="256.9" y1="407.4" x2="442.3" y2="407.4" stroke="#e6e6e6" stroke-width="0.9"/>
<line x1="393.88" y1="315.6" x2="393.88" y2="500.4" stroke="#e6e6e6" stroke-width="0.9"/>
<line x1="256.9" y1="363.05" x2="442.3" y2="363.05" stroke="#e6e6e6" stroke-width="0.9"/>
<line x1="438.6" y1="315.6" x2="438.6" y2="500.4" stroke="#e6e6e6" stroke-width="0.9"/>
<line x1="256.9" y1="318.7" x2="442.3" y2="318.7" stroke="#e6e6e6" stroke-width="0.9"/>
<line x1="254.9" y1="496.1" x2="256.9" y2="496.1" stroke="#999" stroke-width="0.7"/>
<line x1="259.7" y1="500.4" x2="259.7" y2="502.4" stroke="#999" stroke-width="0.7"/>
<text x="254.8" y="499.6" font-size="8.2" font-weight="bold" text-anchor="end" fill="#222">0.00</text>
<text x="259.7" y="508.4" font-size="8.2" font-weight="bold" text-anchor="middle" fill="#222">0.00</text>
<line x1="254.9" y1="451.75" x2="256.9" y2="451.75" stroke="#999" stroke-width="0.7"/>
<line x1="304.43" y1="500.4" x2="304.43" y2="502.4" stroke="#999" stroke-width="0.7"/>
<text x="254.8" y="455.25" font-size="8.2" font-weight="bold" text-anchor="end" fill="#222">0.25</text>
<text x="304.43" y="508.4" font-size="8.2" font-weight="bold" text-anchor="middle" fill="#222">0.25</text>
<line x1="254.9" y1="407.4" x2="256.9" y2="407.4" stroke="#999" stroke-width="0.7"/>
<line x1="349.15" y1="500.4" x2="349.15" y2="502.4" stroke="#999" stroke-width="0.7"/>
<text x="254.8" y="410.9" font-size="8.2" font-weight="bold" text-anchor="end" fill="#222">0.50</text>
<text x="349.15" y="508.4" font-size="8.2" font-weight="bold" text-anchor="middle" fill="#222">0.50</text>
<line x1="254.9" y1="363.05" x2="256.9" y2="363.05" stroke="#999" stroke-width="0.7"/>
<line x1="393.88" y1="500.4" x2="393.88" y2="502.4" stroke="#999" stroke-width="0.7"/>
<text x="254.8" y="366.55" font-size="8.2" font-weight="bold" text-anchor="end" fill="#222">0.75</text>
<text x="393.88" y="508.4" font-size="8.2" font-weight="bold" text-anchor="middle" fill="#222">0.75</text>
<line x1="254.9" y1="318.7" x2="256.9" y2="318.7" stroke="#999" stroke-width="0.7"/>
<line x1="438.6" y1="500.4" x2="438.6" y2="502.4" stroke="#999" stroke-width="0.7"/>
<text x="254.8" y="322.2" font-size="8.2" font-weight="bold" text-anchor="end" fill="#222">1.00</text>
<text x="438.6" y="508.4" font-size="8.2" font-weight="bold" text-anchor="middle" fill="#222">1.00</text>
<text x="349.6" y="312.2" font-size="8" font-weight="bold" text-anchor="middle" fill="#111">ROC curve</text>
<text x="349.6" y="516.4" font-size="8" font-weight="bold" text-anchor="middle" fill="#111">1-Specificity</text>
<text transform="translate(236.7,408.2) rotate(-90)" font-size="8" font-weight="bold" text-anchor="middle" fill="#111">Sensitivity</text>
<line x1="259.7" y1="496.1" x2="438.6" y2="318.7" stroke="#bababa" stroke-width="1.35" stroke-dasharray="7.5,3.6,1.6,3.6" stroke-dashoffset="1.9"/>
<path d="M259.7,496.1 L297.98,454.23 L314.98,437.74 L375.45,379.37 L414.63,341.41 L435.02,327.39 L438.6,318.7" fill="none" stroke="#e07b28" stroke-width="1.5" stroke-linejoin="round"/>
<path d="M259.7,496.1 L269.5,446.3 L289.7,410 L300.3,386.1 L323.8,369.3 L364.3,360.8 L418.3,327.3 L435,327.3 L438.6,318.7" fill="none" stroke="#3a9a48" stroke-width="1.5" stroke-linejoin="round"/>
<path d="M259.7,496.1 L265.6,488.4 L265.6,462.7 L269.5,462.7 L269.5,454.4 L273.3,454.4 L273.3,445.9 L280.1,445.9 L280.1,437.6 L279.7,437.6 L279.7,420.3 L286.8,420.3 L286.8,411.6 L290.1,411.6 L290.1,386.1 L303.7,386.1 L303.7,377.4 L307,377.4 L307,352.4 L313.8,344.3 L323.8,344.3 L323.8,335.6 L337.9,335.6 L337.9,327.3 L388.2,327.3 L391.5,318.7 L438.6,318.7" fill="none" stroke="#f03e3e" stroke-width="1.9" stroke-linejoin="round"/>
<path d="M259.7,496.1 L259.8,488.4 L263.7,488.4 L263.7,462.7 L267,462.7 L267,454.4 L273.3,454.4 L273.3,437.6 L279.7,437.6 L279.7,429.3 L283.6,429.3 L283.6,420.3 L290.1,420.3 L290.1,394.8 L293.5,394.8 L293.5,361.1 L296.4,361.1 L296.4,352.4 L323.8,352.4 L323.8,327.3 L334,327.3 L334,318.7 L438.6,318.7" fill="none" stroke="#1a1aff" stroke-width="1.9" stroke-linejoin="round"/>
<rect x="325.7" y="457.9" width="118.1" height="33.5" fill="#fff"/>
<line x1="332.1" y1="463.9" x2="346" y2="463.9" stroke="#e07b28" stroke-width="1.3"/>
<text x="349.9" y="466.5" font-size="7.75" font-weight="bold" fill="#111">LIRADS model</text>
<line x1="332.1" y1="471.2" x2="346" y2="471.2" stroke="#3a9a48" stroke-width="1.7"/>
<text x="349.9" y="473.8" font-size="7.75" font-weight="bold" fill="#111">Clinical-LIRADS model</text>
<line x1="332.1" y1="478.5" x2="346" y2="478.5" stroke="#f03e3e" stroke-width="1.7"/>
<text x="349.9" y="481.1" font-size="7.75" font-weight="bold" fill="#111">Radiomics model</text>
<line x1="332.1" y1="485.8" x2="346" y2="485.8" stroke="#1a1aff" stroke-width="1.5"/>
<text x="349.9" y="488.4" font-size="7.75" font-weight="bold" fill="#111">Clinical-radiomics model</text>
<text x="469.9" y="299.5" font-size="16.5">e</text>
<rect x="485.4" y="315.6" width="185" height="183.7" fill="#fff" stroke="#c8c8c8" stroke-width="0.9"/>
<line x1="510.76" y1="315.6" x2="510.76" y2="499.3" stroke="#f3f3f3" stroke-width="0.6"/>
<line x1="485.4" y1="472.95" x2="670.4" y2="472.95" stroke="#f3f3f3" stroke-width="0.6"/>
<line x1="555.29" y1="315.6" x2="555.29" y2="499.3" stroke="#f3f3f3" stroke-width="0.6"/>
<line x1="485.4" y1="428.85" x2="670.4" y2="428.85" stroke="#f3f3f3" stroke-width="0.6"/>
<line x1="599.81" y1="315.6" x2="599.81" y2="499.3" stroke="#f3f3f3" stroke-width="0.6"/>
<line x1="485.4" y1="384.75" x2="670.4" y2="384.75" stroke="#f3f3f3" stroke-width="0.6"/>
<line x1="644.34" y1="315.6" x2="644.34" y2="499.3" stroke="#f3f3f3" stroke-width="0.6"/>
<line x1="485.4" y1="340.65" x2="670.4" y2="340.65" stroke="#f3f3f3" stroke-width="0.6"/>
<line x1="488.5" y1="315.6" x2="488.5" y2="499.3" stroke="#e6e6e6" stroke-width="0.9"/>
<line x1="485.4" y1="495" x2="670.4" y2="495" stroke="#e6e6e6" stroke-width="0.9"/>
<line x1="533.02" y1="315.6" x2="533.02" y2="499.3" stroke="#e6e6e6" stroke-width="0.9"/>
<line x1="485.4" y1="450.9" x2="670.4" y2="450.9" stroke="#e6e6e6" stroke-width="0.9"/>
<line x1="577.55" y1="315.6" x2="577.55" y2="499.3" stroke="#e6e6e6" stroke-width="0.9"/>
<line x1="485.4" y1="406.8" x2="670.4" y2="406.8" stroke="#e6e6e6" stroke-width="0.9"/>
<line x1="622.08" y1="315.6" x2="622.08" y2="499.3" stroke="#e6e6e6" stroke-width="0.9"/>
<line x1="485.4" y1="362.7" x2="670.4" y2="362.7" stroke="#e6e6e6" stroke-width="0.9"/>
<line x1="666.6" y1="315.6" x2="666.6" y2="499.3" stroke="#e6e6e6" stroke-width="0.9"/>
<line x1="485.4" y1="318.6" x2="670.4" y2="318.6" stroke="#e6e6e6" stroke-width="0.9"/>
<line x1="483.4" y1="495" x2="485.4" y2="495" stroke="#999" stroke-width="0.7"/>
<line x1="488.5" y1="499.3" x2="488.5" y2="501.3" stroke="#999" stroke-width="0.7"/>
<text x="483.3" y="498.5" font-size="8.2" font-weight="bold" text-anchor="end" fill="#222">0.00</text>
<text x="488.5" y="507.3" font-size="8.2" font-weight="bold" text-anchor="middle" fill="#222">0.00</text>
<line x1="483.4" y1="450.9" x2="485.4" y2="450.9" stroke="#999" stroke-width="0.7"/>
<line x1="533.02" y1="499.3" x2="533.02" y2="501.3" stroke="#999" stroke-width="0.7"/>
<text x="483.3" y="454.4" font-size="8.2" font-weight="bold" text-anchor="end" fill="#222">0.25</text>
<text x="533.02" y="507.3" font-size="8.2" font-weight="bold" text-anchor="middle" fill="#222">0.25</text>
<line x1="483.4" y1="406.8" x2="485.4" y2="406.8" stroke="#999" stroke-width="0.7"/>
<line x1="577.55" y1="499.3" x2="577.55" y2="501.3" stroke="#999" stroke-width="0.7"/>
<text x="483.3" y="410.3" font-size="8.2" font-weight="bold" text-anchor="end" fill="#222">0.50</text>
<text x="577.55" y="507.3" font-size="8.2" font-weight="bold" text-anchor="middle" fill="#222">0.50</text>
<line x1="483.4" y1="362.7" x2="485.4" y2="362.7" stroke="#999" stroke-width="0.7"/>
<line x1="622.08" y1="499.3" x2="622.08" y2="501.3" stroke="#999" stroke-width="0.7"/>
<text x="483.3" y="366.2" font-size="8.2" font-weight="bold" text-anchor="end" fill="#222">0.75</text>
<text x="622.08" y="507.3" font-size="8.2" font-weight="bold" text-anchor="middle" fill="#222">0.75</text>
<line x1="483.4" y1="318.6" x2="485.4" y2="318.6" stroke="#999" stroke-width="0.7"/>
<line x1="666.6" y1="499.3" x2="666.6" y2="501.3" stroke="#999" stroke-width="0.7"/>
<text x="483.3" y="322.1" font-size="8.2" font-weight="bold" text-anchor="end" fill="#222">1.00</text>
<text x="666.6" y="507.3" font-size="8.2" font-weight="bold" text-anchor="middle" fill="#222">1.00</text>
<text x="577.9" y="312.2" font-size="8" font-weight="bold" text-anchor="middle" fill="#111">ROC curve</text>
<text x="577.9" y="515.3" font-size="8" font-weight="bold" text-anchor="middle" fill="#111">1-Specificity</text>
<text transform="translate(464.5,407.6) rotate(-90)" font-size="8" font-weight="bold" text-anchor="middle" fill="#111">Sensitivity</text>
<line x1="488.5" y1="495" x2="666.6" y2="318.6" stroke="#bababa" stroke-width="1.35" stroke-dasharray="7.5,3.6,1.6,3.6" stroke-dashoffset="1.9"/>
<path d="M488.5,495 L538.55,424.97 L623.86,353.88 L652.35,318.6 L666.6,318.6" fill="none" stroke="#e07b28" stroke-width="1.5" stroke-linejoin="round"/>
<path d="M488.5,495 L502.93,424.44 L502.93,389.16 L588.59,389.16 L623.86,353.88 L652.35,318.6 L666.6,318.6" fill="none" stroke="#3a9a48" stroke-width="1.5" stroke-linejoin="round"/>
<path d="M488.5,495 L488.5,424.44 L517,424.44 L517,389.16 L538.37,389.16 L538.37,353.88 L623.86,353.88 L623.86,318.6 L666.6,318.6" fill="none" stroke="#f03e3e" stroke-width="1.9" stroke-linejoin="round"/>
<path d="M488.5,495 L488.5,424.44 L495.8,424.44 L495.8,389.16 L517,389.16 L517,353.88 L638.46,353.88 L638.46,318.6 L666.6,318.6" fill="none" stroke="#1a1aff" stroke-width="1.9" stroke-linejoin="round"/>
<rect x="554.9" y="456.8" width="117" height="33.5" fill="#fff"/>
<line x1="561.3" y1="462.8" x2="575.2" y2="462.8" stroke="#e07b28" stroke-width="1.3"/>
<text x="579.1" y="465.4" font-size="7.75" font-weight="bold" fill="#111">LIRADS model</text>
<line x1="561.3" y1="470.1" x2="575.2" y2="470.1" stroke="#3a9a48" stroke-width="1.7"/>
<text x="579.1" y="472.7" font-size="7.75" font-weight="bold" fill="#111">Clinical-LIRADS model</text>
<line x1="561.3" y1="477.4" x2="575.2" y2="477.4" stroke="#f03e3e" stroke-width="1.7"/>
<text x="579.1" y="480" font-size="7.75" font-weight="bold" fill="#111">Radiomics model</text>
<line x1="561.3" y1="484.7" x2="575.2" y2="484.7" stroke="#1a1aff" stroke-width="1.5"/>
<text x="579.1" y="487.3" font-size="7.75" font-weight="bold" fill="#111">Clinical-radiomics model</text>
</svg>
</body></html>
